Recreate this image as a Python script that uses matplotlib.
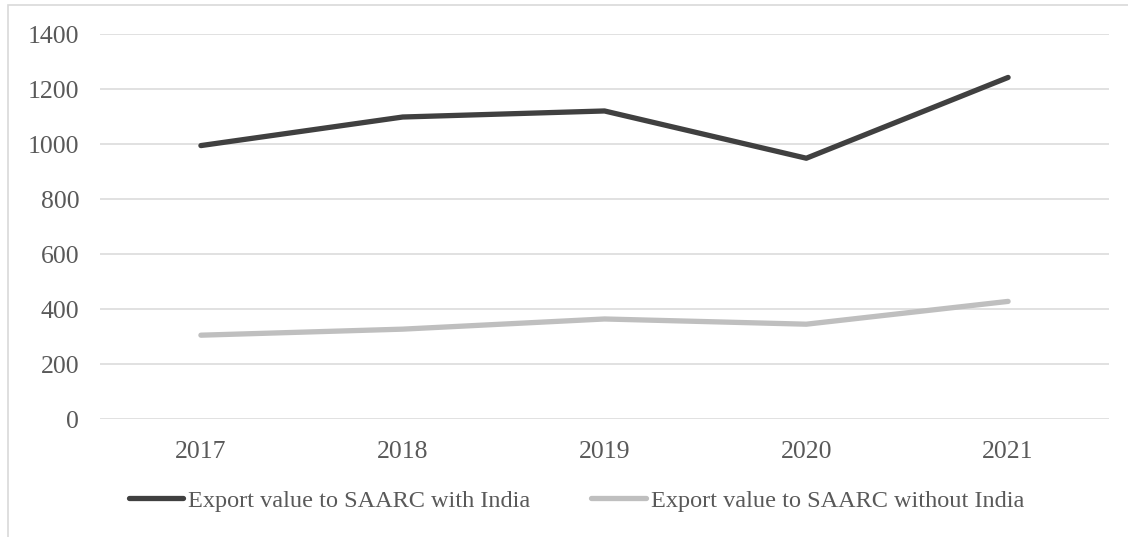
import matplotlib.pyplot as plt
from matplotlib.patches import Rectangle

# Export values (in millions) by year
years = ["2017", "2018", "2019", "2020", "2021"]
with_india = [995, 1099, 1121, 949, 1243]
without_india = [305, 327, 364, 345, 428]
series_names = ["Export value to SAARC with India", "Export value to SAARC without India"]
y_ticks = [0, 200, 400, 600, 800, 1000, 1200, 1400]

plt.rcParams["font.family"] = ["Liberation Serif", "DejaVu Serif"]
text_color = "#595959"
grid_color = "#D9D9D9"

W, H = 1128, 537
fig = plt.figure(figsize=(W / 100, H / 100), dpi=100)
ax = fig.add_axes([100 / W, 1 - 419 / H, (1109 - 100) / W, (419 - 34.3) / H])

x = range(len(years))
ax.plot(x, with_india, color="#404040", lw=3.8, solid_capstyle="round",
        solid_joinstyle="round", label=series_names[0])
ax.plot(x, without_india, color="#BFBFBF", lw=3.8, solid_capstyle="round",
        solid_joinstyle="round", label=series_names[1])

ax.set_xlim(-0.5, len(years) - 0.5)
ax.set_ylim(0, 1400)
ax.set_yticks(y_ticks)
ax.set_yticklabels([str(v) for v in y_ticks])
ax.set_xticks(list(x))
ax.set_xticklabels(years)
ax.grid(axis="y", color=grid_color, lw=1.1)
ax.set_axisbelow(True)
for s in ax.spines.values():
    s.set_visible(False)
ax.tick_params(length=0, labelsize=18.5, labelcolor=text_color)
ax.tick_params(axis="y", pad=15)
ax.tick_params(axis="x", pad=16)

leg = ax.legend(loc="center", bbox_to_anchor=(576.5 / W, 1 - 501 / H),
                bbox_transform=fig.transFigure, ncol=2, frameon=False,
                fontsize=17.5, handlelength=2.26, handletextpad=0.2,
                columnspacing=2.5, labelcolor=text_color)
for h in leg.legend_handles:
    h.set_solid_capstyle("round")

# chart area border
fig.patches.append(Rectangle((8 / W, -0.05), 1.2, 1 - 5 / H + 0.05,
                             transform=fig.transFigure, fill=False,
                             edgecolor=grid_color, lw=1.2))

fig.savefig("out.png", dpi=100)
